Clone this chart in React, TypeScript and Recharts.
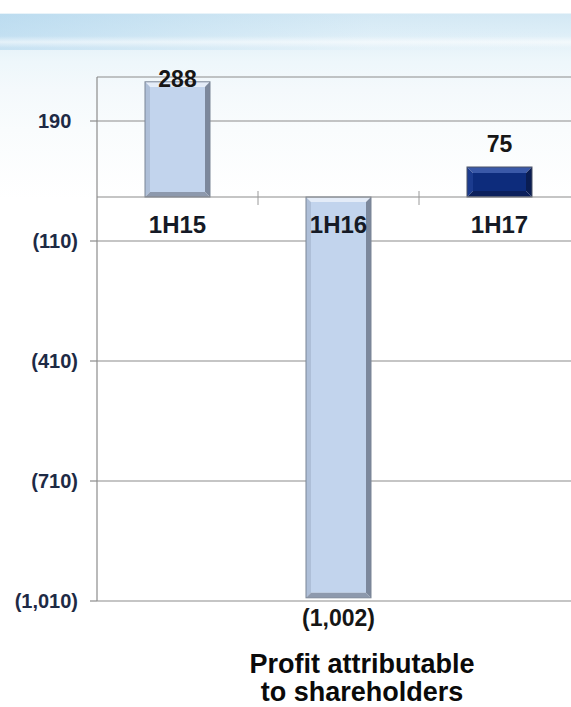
import React from "react";
import {
  BarChart,
  Bar,
  XAxis,
  YAxis,
  CartesianGrid,
  ReferenceLine,
  LabelList,
  Cell,
} from "recharts";

// data
const CATEGORIES = ["1H15", "1H16", "1H17"];
const PROFIT = [288, -1002, 75];
const BAR_TONES = ["light", "light", "dark"];
const Y_TICKS = [190, -110, -410, -710, -1010];
const Y_DOMAIN = [-1010, 300];

const FONT = '"Liberation Sans", Arial, Helvetica, sans-serif';
const PLOT_TOP = 77;
const GRID = "#8c8c8c";

// bevel colours per tone
const TONES: Record<string, any> = {
  light: {
    face: "#c2d4ed",
    top: "#e4ecf8",
    left: "#aebfd8",
    right: "#7c889c",
    bottom: "#8d99ad",
    outline: "#7b8596",
    bevel: 5,
  },
  dark: {
    face: "#0d2c7c",
    top: "#3a59a8",
    left: "#1b3b8e",
    right: "#0a1d52",
    bottom: "#0b205c",
    outline: "#4a5266",
    bevel: 6,
  },
};

const data = CATEGORIES.map((name, i) => ({ name, value: PROFIT[i] }));

const fmt = (v: number) =>
  v < 0 ? `(${Math.abs(v).toLocaleString("en-US")})` : v.toLocaleString("en-US");

const BevelBar = (props: any) => {
  const { x, y, width, height, index } = props;
  const t = TONES[BAR_TONES[index]];
  const top = Math.min(y, y + height);
  const h = Math.abs(height);
  const w = width;
  const b = Math.min(t.bevel, h / 2);
  const pts = (arr: number[][]) => arr.map((p) => p.join(",")).join(" ");
  return (
    <g>
      <rect x={x + b} y={top + b} width={w - 2 * b} height={h - 2 * b} fill={t.face} />
      <polygon points={pts([[x, top], [x + w, top], [x + w - b, top + b], [x + b, top + b]])} fill={t.top} />
      <polygon points={pts([[x, top], [x + b, top + b], [x + b, top + h - b], [x, top + h]])} fill={t.left} />
      <polygon points={pts([[x + w, top], [x + w, top + h], [x + w - b, top + h - b], [x + w - b, top + b]])} fill={t.right} />
      <polygon points={pts([[x, top + h], [x + w, top + h], [x + w - b, top + h - b], [x + b, top + h - b]])} fill={t.bottom} />
      <rect x={x} y={top} width={w} height={h} fill="none" stroke={t.outline} strokeWidth={1} />
    </g>
  );
};

const YTick = (props: any) => {
  const { x, y, payload } = props;
  const v = payload.value;
  return (
    <text
      x={x}
      y={y}
      dy={7}
      textAnchor="end"
      fontFamily={FONT}
      fontWeight="bold"
      fontSize={20}
      fill="#1e2a45"
    >
      {fmt(v)}
      {v >= 0 && <tspan fill="transparent">)</tspan>}
    </text>
  );
};

const ValueLabel = (props: any) => {
  const { x, y, width, height, index } = props;
  const v = PROFIT[index];
  const top = Math.min(y, y + height);
  const bottom = Math.max(y, y + height);
  const ty = v >= 0 ? Math.max(top - 15, PLOT_TOP + 10) : bottom + 28;
  return (
    <text
      x={x + width / 2}
      y={ty}
      textAnchor="middle"
      fontFamily={FONT}
      fontWeight="bold"
      fontSize={23}
      fill="#161616"
    >
      {fmt(v)}
    </text>
  );
};

const CategoryLabel = (props: any) => {
  const { x, y, width, height, index, value } = props;
  const top = Math.min(y, y + height);
  const bottom = Math.max(y, y + height);
  const zero = PROFIT[index] >= 0 ? bottom : top;
  return (
    <text
      x={x + width / 2}
      y={zero + 36}
      textAnchor="middle"
      fontFamily={FONT}
      fontWeight="bold"
      fontSize={24}
      fill="#151a26"
    >
      {value}
    </text>
  );
};

export default function App() {
  return (
    <div
      style={{
        position: "absolute",
        left: 0,
        top: 0,
        width: 571,
        height: 707,
        overflow: "hidden",
        background: "#ffffff",
      }}
    >
      {/* light blue swoosh banner */}
      <div
        style={{
          position: "absolute",
          left: 0,
          top: 0,
          width: 571,
          height: 200,
          background:
            "linear-gradient(180deg, #ffffff 0px, #ffffff 13px, #d3e8f4 14px, #dbedf7 30px, #e5f2f9 44px, #eef7fb 62px, #f4f9fc 90px, #f9fcfd 130px, #ffffff 200px)",
        }}
      />
      <div
        style={{
          position: "absolute",
          left: 0,
          top: 14,
          width: 571,
          height: 36,
          background:
            "linear-gradient(90deg, rgba(160,205,234,0.45) 0%, rgba(180,216,238,0.3) 35%, rgba(215,234,246,0.12) 65%, rgba(255,255,255,0) 100%)",
        }}
      />
      <div
        style={{
          position: "absolute",
          left: 0,
          top: 36,
          width: 571,
          height: 12,
          background:
            "linear-gradient(180deg, rgba(255,255,255,0) 0%, rgba(255,255,255,0.55) 50%, rgba(255,255,255,0) 100%)",
        }}
      />
      <div style={{ position: "absolute", left: 0, top: 0 }}>
        <BarChart
          width={590}
          height={707}
          data={data}
          margin={{ top: PLOT_TOP, right: 10, left: 0, bottom: 106 }}
        >
          <CartesianGrid
            horizontal
            vertical={false}
            stroke={GRID}
            strokeWidth={1.2}
            fill="none"
          />
          <XAxis dataKey="name" hide />
          <YAxis
            type="number"
            domain={Y_DOMAIN}
            ticks={Y_TICKS}
            width={97}
            interval={0}
            axisLine={{ stroke: GRID, strokeWidth: 1.2 }}
            tickLine={{ stroke: GRID, strokeWidth: 1.2 }}
            tickSize={7}
            tickMargin={12}
            tick={<YTick />}
          />
          <ReferenceLine y={0} stroke={GRID} strokeWidth={1.2} />
          {CATEGORIES.slice(0, -1).map((c) => (
            <ReferenceLine
              key={c}
              segment={[
                { x: c, y: 15 },
                { x: c, y: -20 },
              ]}
              position="end"
              stroke="#9a9a9a"
              strokeWidth={1}
            />
          ))}
          <Bar
            dataKey="value"
            barSize={65}
            shape={<BevelBar />}
            isAnimationActive={false}
          >
            {data.map((d, i) => (
              <Cell key={d.name} fill={TONES[BAR_TONES[i]].face} />
            ))}
            <LabelList dataKey="value" content={<ValueLabel />} />
            <LabelList dataKey="name" content={<CategoryLabel />} />
          </Bar>
        </BarChart>
      </div>
      <div
        style={{
          position: "absolute",
          left: 212,
          top: 650,
          width: 300,
          textAlign: "center",
          fontFamily: FONT,
          fontWeight: "bold",
          fontSize: 27,
          lineHeight: "28px",
          color: "#0a0a0a",
        }}
      >
        Profit attributable
        <br />
        to shareholders
      </div>
    </div>
  );
}
